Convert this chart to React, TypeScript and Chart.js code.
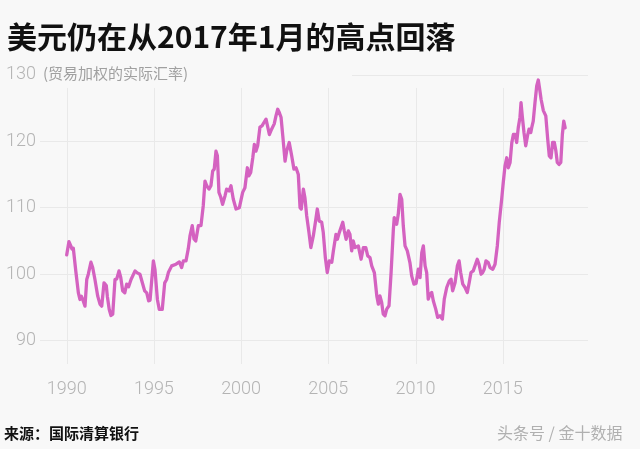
import React, { useEffect, useRef } from "react";
import { Chart, registerables } from "chart.js";

Chart.register(...registerables);

const title = "美元仍在从2017年1月的高点回落";
const subtitle = "(贸易加权的实际汇率)";
const source = "来源：国际清算银行";
const watermark = "头条号 / 金十数据";

const xTicks = [1990, 1995, 2000, 2005, 2010, 2015];
const yTicks = [90, 100, 110, 120, 130];

// decimal year of each reading
const years = [
  1990.0, 1990.13, 1990.23, 1990.3, 1990.38, 1990.53, 1990.67, 1990.76, 1990.84, 1990.92,
  1991.05, 1991.15, 1991.24, 1991.39, 1991.49, 1991.62, 1991.78, 1991.91, 1992.01, 1992.14,
  1992.27, 1992.33, 1992.44, 1992.54, 1992.64, 1992.77, 1992.87, 1993.0, 1993.1, 1993.21,
  1993.33, 1993.44, 1993.55, 1993.69, 1993.92, 1994.05, 1994.2, 1994.33, 1994.47, 1994.59,
  1994.7, 1994.78, 1994.97, 1995.06, 1995.2, 1995.31, 1995.48, 1995.62, 1995.73, 1995.83,
  1996.02, 1996.27, 1996.46, 1996.59, 1996.69, 1996.84, 1996.97, 1997.07, 1997.2, 1997.3,
  1997.4, 1997.55, 1997.7, 1997.83, 1997.93, 1998.03, 1998.16, 1998.27, 1998.37, 1998.46,
  1998.56, 1998.64, 1998.73, 1998.83, 1998.94, 1999.08, 1999.17, 1999.31, 1999.42, 1999.55,
  1999.71, 1999.9, 2000.09, 2000.22, 2000.36, 2000.45, 2000.55, 2000.67, 2000.76, 2000.85,
  2000.95, 2001.08, 2001.2, 2001.31, 2001.43, 2001.53, 2001.62, 2001.75, 2001.9, 2002.0,
  2002.1, 2002.19, 2002.29, 2002.39, 2002.52, 2002.61, 2002.76, 2002.9, 2003.03, 2003.15,
  2003.28, 2003.38, 2003.45, 2003.57, 2003.66, 2003.76, 2003.89, 2004.0, 2004.14, 2004.26,
  2004.37, 2004.48, 2004.62, 2004.71, 2004.83, 2004.94, 2005.06, 2005.2, 2005.29, 2005.44,
  2005.52, 2005.63, 2005.83, 2005.92, 2006.02, 2006.15, 2006.24, 2006.34, 2006.43, 2006.53,
  2006.72, 2006.88, 2007.01, 2007.15, 2007.26, 2007.39, 2007.49, 2007.64, 2007.78, 2007.87,
  2007.96, 2008.06, 2008.15, 2008.25, 2008.35, 2008.48, 2008.6, 2008.73, 2008.78, 2008.92,
  2009.01, 2009.11, 2009.21, 2009.3, 2009.4, 2009.53, 2009.68, 2009.78, 2009.91, 2010.03,
  2010.16, 2010.26, 2010.36, 2010.45, 2010.55, 2010.64, 2010.73, 2010.83, 2010.93, 2011.02,
  2011.16, 2011.27, 2011.4, 2011.54, 2011.65, 2011.79, 2011.94, 2012.04, 2012.13, 2012.27,
  2012.4, 2012.5, 2012.59, 2012.71, 2012.84, 2012.97, 2013.08, 2013.18, 2013.31, 2013.41,
  2013.54, 2013.64, 2013.76, 2013.85, 2013.94, 2014.04, 2014.17, 2014.27, 2014.43, 2014.56,
  2014.69, 2014.8, 2014.94, 2015.03, 2015.13, 2015.23, 2015.32, 2015.42, 2015.52, 2015.61,
  2015.71, 2015.8, 2015.89, 2015.99, 2016.05, 2016.12, 2016.22, 2016.32, 2016.42, 2016.51,
  2016.61, 2016.66, 2016.75, 2016.85, 2016.95, 2017.04, 2017.12, 2017.2, 2017.33, 2017.47,
  2017.58, 2017.67, 2017.77, 2017.86, 2017.96, 2018.05, 2018.13, 2018.23, 2018.33, 2018.42,
  2018.5, 2018.58,
];

// real trade-weighted dollar index
const values = [
  102.9, 104.9, 104.3, 103.8, 103.9, 100.3, 97.2, 96.2, 96.7, 96.2,
  95.2, 99.2, 100.0, 101.8, 101.0, 99.2, 96.7, 95.5, 95.2, 98.7,
  98.3, 96.7, 94.7, 93.8, 94.0, 99.2, 99.3, 100.5, 99.5, 97.5,
  97.2, 98.5, 98.1, 99.2, 100.5, 100.2, 100.0, 98.8, 97.5, 97.2,
  96.0, 96.1, 102.0, 100.75, 96.2, 94.7, 94.7, 98.7, 99.2, 100.25,
  101.25, 101.5, 101.85, 101.0, 102.0, 102.0, 103.8, 105.75, 107.3, 105.3,
  105.0, 107.3, 107.3, 110.3, 114.0, 113.3, 112.8, 113.3, 115.5, 115.8,
  118.5, 117.8, 112.3, 111.6, 110.5, 111.8, 112.8, 112.5, 113.3, 111.3,
  109.8, 110.0, 112.3, 113.0, 116.0, 114.8, 115.3, 117.5, 119.5, 118.5,
  119.3, 122.1, 122.3, 122.8, 123.3, 122.1, 121.0, 121.8, 122.6, 123.8,
  124.8, 124.3, 123.6, 120.8, 117.0, 118.5, 119.8, 117.8, 115.8, 116.0,
  115.0, 110.0, 109.8, 112.8, 111.5, 108.8, 106.3, 104.0, 105.75, 107.8,
  109.8, 108.0, 107.8, 106.3, 102.5, 100.25, 102.0, 101.8, 103.5, 106.0,
  105.25, 106.25, 107.8, 106.5, 105.25, 106.5, 106.0, 103.5, 105.0, 104.0,
  104.25, 102.25, 104.0, 104.0, 102.75, 102.5, 101.25, 100.25, 96.75, 95.5,
  96.75, 95.75, 94.0, 93.75, 94.75, 95.25, 100.25, 106.75, 108.5, 107.5,
  109.0, 112.0, 111.25, 107.25, 104.25, 103.5, 101.75, 99.75, 98.5, 98.6,
  100.75, 99.5, 103.25, 104.25, 101.25, 100.25, 96.25, 97.0, 97.25, 96.0,
  94.75, 93.5, 93.75, 93.25, 96.25, 98.0, 99.0, 99.25, 97.5, 98.75,
  101.25, 102.0, 100.25, 98.5, 98.0, 97.25, 98.75, 100.25, 100.5, 101.25,
  102.25, 101.5, 100.0, 100.25, 100.75, 102.0, 101.75, 101.0, 100.75, 101.5,
  104.25, 107.75, 111.25, 113.75, 116.25, 117.5, 116.0, 116.75, 119.75, 121.0,
  121.0, 119.8, 122.0, 123.6, 125.8, 123.8, 121.3, 119.3, 120.8, 121.8,
  121.3, 122.0, 123.0, 125.8, 128.3, 129.2, 127.8, 126.3, 124.6, 123.8,
  120.3, 117.8, 117.5, 119.8, 119.8, 118.5, 116.8, 116.5, 116.8, 121.0,
  123.0, 122.0,
];

const LINE_COLOR = "#d462c0";
const GRID_COLOR = "#e9e9e9";
const TICK_COLOR = "#b4b4b4";
const X_MIN = 1988.47;
const X_MAX = 2019.89;
const Y_MIN = 86.5;
const Y_MAX = 131;
const GRID130_START = 2006.36;
const VGRID_TOP = 128;

export default function App() {
  const canvasRef = useRef<HTMLCanvasElement | null>(null);

  useEffect(() => {
    if (!canvasRef.current) return;
    const overlay = {
      id: "overlay",
      beforeDatasetsDraw(chart: any) {
        const { ctx, scales, chartArea } = chart;
        const x = scales.x;
        const y = scales.y;
        ctx.save();
        ctx.strokeStyle = GRID_COLOR;
        ctx.lineWidth = 1;
        ctx.beginPath();
        const top = y.getPixelForValue(VGRID_TOP);
        for (const t of xTicks) {
          const px = Math.round(x.getPixelForValue(t)) + 0.5;
          ctx.moveTo(px, top);
          ctx.lineTo(px, chartArea.bottom);
        }
        const py = Math.round(y.getPixelForValue(130)) + 0.5;
        ctx.moveTo(x.getPixelForValue(GRID130_START), py);
        ctx.lineTo(chartArea.right, py);
        ctx.stroke();
        ctx.restore();
      },
      afterDraw(chart: any) {
        const { ctx, scales, chartArea } = chart;
        const y = scales.y;
        ctx.save();
        ctx.fillStyle = "#a0a0a0";
        ctx.font = '15px "Noto Sans CJK SC", sans-serif';
        ctx.textBaseline = "middle";
        ctx.textAlign = "left";
        ctx.fillText(subtitle, chartArea.left + 3, y.getPixelForValue(130) - 1);
        ctx.restore();
      },
    };

    const chart = new Chart(canvasRef.current, {
      type: "line",
      data: {
        datasets: [
          {
            data: years.map((yr, i) => ({ x: yr, y: values[i] })),
            borderColor: LINE_COLOR,
            borderWidth: 3.3,
            pointRadius: 0,
            tension: 0,
            borderJoinStyle: "round",
            borderCapStyle: "round",
            fill: false,
          },
        ],
      },
      options: {
        animation: false,
        responsive: false,
        maintainAspectRatio: false,
        layout: { padding: { top: 68, bottom: 45, left: 0, right: 52 } },
        plugins: { legend: { display: false }, tooltip: { enabled: false } },
        scales: {
          x: {
            type: "linear",
            min: X_MIN,
            max: X_MAX,
            afterBuildTicks: (axis: any) => {
              axis.ticks = xTicks.map((v) => ({ value: v }));
            },
            afterFit: (axis: any) => {
              axis.height = 40;
            },
            grid: { display: false },
            border: { display: false },
            ticks: {
              color: TICK_COLOR,
              font: { family: "Roboto", size: 18, weight: "300" },
              padding: 7,
              maxRotation: 0,
              autoSkip: false,
              callback: (v: any) => String(v),
            },
          },
          y: {
            type: "linear",
            min: Y_MIN,
            max: Y_MAX,
            afterBuildTicks: (axis: any) => {
              axis.ticks = yTicks.map((v) => ({ value: v }));
            },
            afterFit: (axis: any) => {
              axis.width = 40;
            },
            grid: {
              drawTicks: false,
              color: (c: any) => (c.tick && c.tick.value === 130 ? "rgba(0,0,0,0)" : GRID_COLOR),
            },
            border: { display: false },
            ticks: {
              color: TICK_COLOR,
              font: { family: "Roboto", size: 18, weight: "300" },
              padding: 4,
              callback: (v: any) => String(v),
            },
          },
        },
      },
      plugins: [overlay],
    } as any);

    return () => chart.destroy();
  }, []);

  return (
    <div
      style={{
        position: "fixed",
        left: 0,
        top: 0,
        width: 640,
        height: 449,
        background: "#f8f8f8",
        overflow: "hidden",
      }}
    >
      <canvas
        ref={canvasRef}
        width={640}
        height={449}
        style={{ position: "absolute", left: 0, top: 0, width: 640, height: 449 }}
      />
      <div
        style={{
          position: "absolute",
          left: 7,
          top: 19,
          fontFamily: '"Noto Sans CJK SC", sans-serif',
          fontWeight: 700,
          fontSize: 30,
          lineHeight: "32px",
          color: "#111",
          whiteSpace: "nowrap",
        }}
      >
        {title}
      </div>
      <div
        style={{
          position: "absolute",
          left: 4,
          top: 424,
          fontFamily: '"Noto Sans CJK SC", sans-serif',
          fontWeight: 700,
          fontSize: 15,
          lineHeight: "18px",
          color: "#111",
          whiteSpace: "nowrap",
        }}
      >
        {source}
      </div>
      <div
        style={{
          position: "absolute",
          left: 497,
          top: 422,
          fontFamily: '"Noto Sans CJK SC", sans-serif',
          fontSize: 16,
          lineHeight: "20px",
          color: "#b0b0b0",
          whiteSpace: "nowrap",
        }}
      >
        {watermark}
      </div>
    </div>
  );
}
